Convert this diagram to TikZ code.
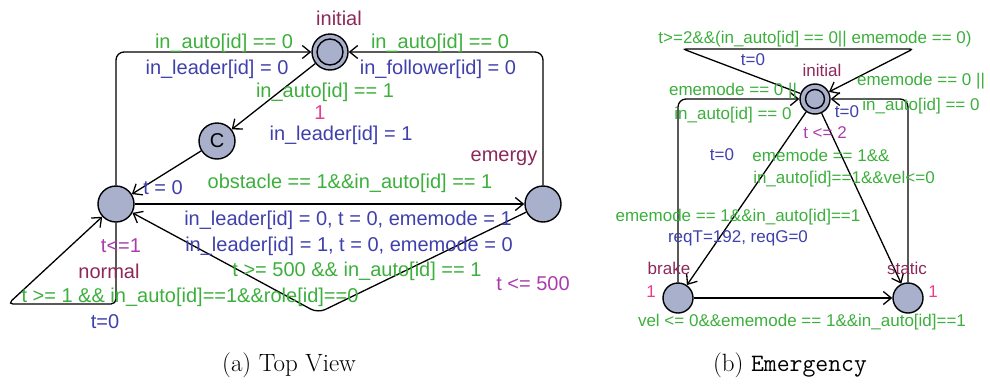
\documentclass[tikz,border=0pt]{standalone}
\usepackage{fontspec}
\usepackage{xcolor}
\usepackage{tikz}
\usetikzlibrary{arrows.meta}

\newfontfamily\uppfont{Liberation Sans}
\newcommand\labA{\uppfont\fontsize{20}{22}\selectfont}
\newcommand\labB{\uppfont\fontsize{17}{19}\selectfont}
\newcommand\capfont{\fontsize{25}{28}\selectfont}

\definecolor{guardgreen}{RGB}{60,175,60}
\definecolor{updblue}{RGB}{64,64,172}
\definecolor{namered}{RGB}{140,40,90}
\definecolor{invmag}{RGB}{172,60,172}
\definecolor{ratepink}{RGB}{232,60,140}
\definecolor{locfill}{RGB}{168,176,204}

\begin{document}
\begin{tikzpicture}[x=1pt, y=-1pt,
    loc/.style={circle, draw, line width=1.4pt, fill=locfill, inner sep=0pt},
    edge/.style={line width=1.3pt, -{Straight Barb[length=8pt,width=13pt,line width=1.3pt]}},
    guard/.style={text=guardgreen, inner sep=0pt},
    upd/.style={text=updblue, inner sep=0pt},
    lname/.style={text=namered, inner sep=0pt},
    inv/.style={text=invmag, inner sep=0pt},
    rate/.style={text=ratepink, inner sep=0pt}]

    \useasboundingbox (0,0) rectangle (990,383);

    % (a) Top View
    \begin{scope}[font=\labA]
    % Locations
    \node[loc, minimum size=36pt] (initA) at (330,52) {};
    \draw[line width=1.4pt] (initA.center) circle[radius=13pt];
    \node[loc, minimum size=36pt] (C) at (217,141) {C};
    \node[loc, minimum size=36pt] (normal) at (116,204) {};
    \node[loc, minimum size=36pt] (emergy) at (543,204) {};

    % Corner points
    \coordinate (dipA) at (318,313);
    \coordinate (loopR) at (116,304);
    \coordinate (loopL) at (8,304);

    % Edges
    \draw[edge, rounded corners=8pt] (normal) |- (initA);
    \draw[edge, rounded corners=8pt] (emergy) |- (initA);
    \draw[edge] (initA) -- (C);
    \draw[edge] (C) -- (normal);
    \draw[edge] (normal) -- (emergy);
    \draw[edge, rounded corners=8pt] (emergy) -- (dipA) -- (normal);
    \draw[edge, rounded corners=5pt] (normal) -- (loopR) -- (loopL) -- (normal);

    % Labels
    \node[lname] (nInitA) at (339,18) {initial};
    \node[guard] (gA1) at (224,43) {in\_auto[id] == 0};
    \node[upd] (uA1) at (217,69) {in\_leader[id] = 0};
    \node[guard] (gA2) at (440,43) {in\_auto[id] == 0};
    \node[upd] (uA2) at (438,69) {in\_follower[id] = 0};
    \node[guard] (gA3) at (325,92) {in\_auto[id] == 1};
    \node[rate] (rA1) at (320,113) {1};
    \node[upd] (uA3) at (341,135) {in\_leader[id] = 1};
    \node[upd] (uA4) at (163,188) {t = 0};
    \node[guard] (gA4) at (350,183) {obstacle == 1\&\&in\_auto[id] == 1};
    \node[upd] (uA5) at (348,220) {in\_leader[id] = 0, t = 0, ememode = 1};
    \node[upd] (uA6) at (349,246) {in\_leader[id] = 1, t = 0, ememode = 0};
    \node[guard] (gA5) at (357,271) {t >= 500 \&\& in\_auto[id] == 1};
    \node[guard] (gA6) at (190,297) {t >= 1 \&\& in\_auto[id]==1\&\&role[id]==0};
    \node[upd] (uA7) at (105,322) {t=0};
    \node[inv] (iA1) at (121,246) {t<=1};
    \node[lname] (nNormal) at (109,271) {normal};
    \node[lname] (nEmergy) at (504,158) {emergy};
    \node[inv] (iA2) at (533,284) {t <= 500};
    \end{scope}

    % (b) Emergency
    \begin{scope}[font=\labB]
    % Locations
    \node[loc, minimum size=30pt] (initB) at (815,99) {};
    \draw[line width=1.4pt] (initB.center) circle[radius=9.5pt];
    \node[loc, minimum size=30pt] (brake) at (678,298) {};
    \node[loc, minimum size=30pt] (static) at (908,298) {};

    % Corner points
    \coordinate (topL) at (683,49);
    \coordinate (topR) at (913,49);

    % Edges
    \draw[edge, rounded corners=3pt] (initB) -- (topL) -- (topR) -- (initB);
    \draw[edge, rounded corners=8pt] (brake) |- (initB);
    \draw[edge, rounded corners=8pt] (static) |- (initB);
    \draw[edge] (initB) -- (brake);
    \draw[edge] (initB) -- (static);
    \draw[edge] (brake) -- (static);

    % Labels
    \node[guard] (gB1) at (815,39) {t>=2\&\&(in\_auto[id] == 0|| ememode == 0)};
    \node[upd] (uB1) at (753,60) {t=0};
    \node[lname] (nInitB) at (822,70) {initial};
    \node[guard] (gB2) at (733,91) {ememode == 0 ||};
    \node[guard] (gB3) at (733,115) {in\_auto[id] == 0};
    \node[guard] (gB4) at (921,81) {ememode == 0 ||};
    \node[guard] (gB5) at (921,106) {in\_auto[id] == 0};
    \node[upd] (uB2) at (847,112) {t=0};
    \node[inv] (iB1) at (825,133) {t <= 2};
    \node[upd] (uB3) at (722,155) {t=0};
    \node[guard] (gB6) at (821,155) {ememode == 1\&\&};
    \node[guard] (gB7) at (844,179) {in\_auto[id]==1\&\&vel<=0};
    \node[guard] (gB8) at (738,217) {ememode == 1\&\&in\_auto[id]==1};
    \node[upd] (uB4) at (738,238) {reqT=192, reqG=0};
    \node[lname] (nBrake) at (669,268) {brake};
    \node[rate] (rB1) at (651,292) {1};
    \node[lname] (nStatic) at (907,268) {static};
    \node[rate] (rB2) at (933,292) {1};
    \node[guard] (gB9) at (802,322) {vel <= 0\&\&ememode == 1\&\&in\_auto[id]==1};
    \end{scope}

    % Captions
    \node[font=\capfont, inner sep=0pt] (capA) at (289,365) {(a) Top View};
    \node[font=\capfont, inner sep=0pt] (capB) at (790,365) {(b) \texttt{Emergency}};

\end{tikzpicture}
\end{document}
